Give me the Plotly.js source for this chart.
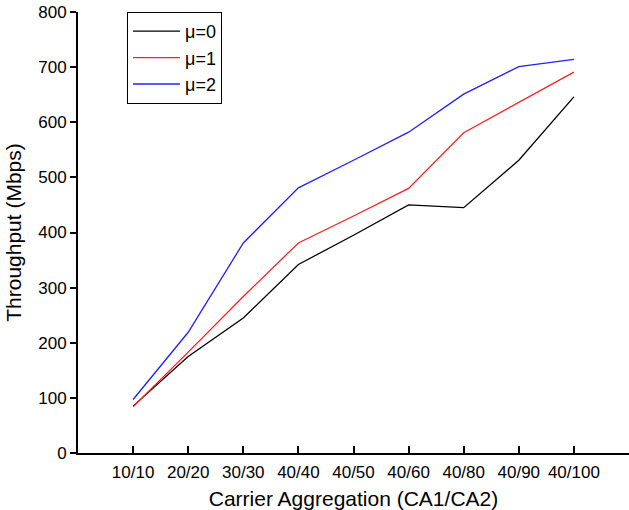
<!DOCTYPE html>
<html>
<head>
<meta charset="utf-8">
<script src="https://cdn.plot.ly/plotly-3.0.1.min.js"></script>
<style>html,body{margin:0;padding:0;background:#fff;} #chart{width:629px;height:510px;}</style>
</head>
<body>
<div id="chart"></div>
<script>
const categories = ["10/10","20/20","30/30","40/40","40/50","40/60","40/80","40/90","40/100"];
const mu0 = [85, 175, 245, 342, 395, 450, 445, 531, 646];
const mu1 = [84, 183, 284, 381, 430, 480, 581, 636, 691];
const mu2 = [97, 219, 381, 481, 531, 582, 651, 701, 714];
const seriesNames = ["μ=0", "μ=1", "μ=2"];
const yTicks = [0, 100, 200, 300, 400, 500, 600, 700, 800];

const idx = categories.map((c, i) => i);
const tickVals = idx.concat([categories.length]);
const tickText = categories.concat([""]);

const colors = ["#000000", "#ff2020", "#2020ff"];
const traces = [mu0, mu1, mu2].map((s, k) => ({
  x: idx, y: s, type: "scatter", mode: "lines", name: seriesNames[k],
  line: {color: colors[k], width: 1.3}
}));

const layout = {
  width: 629, height: 510,
  margin: {l: 78, r: 0, t: 12, b: 57},
  paper_bgcolor: "#fff", plot_bgcolor: "#fff",
  font: {family: "Liberation Sans, Arial, sans-serif", color: "#000", size: 17},
  showlegend: true,
  legend: {x: 0.089, y: 1.0, xanchor: "left", yanchor: "top",
    bordercolor: "#000", borderwidth: 1, bgcolor: "#fff",
    font: {size: 18, color: "#000"}, itemwidth: 47, tracegroupgap: 0},
  xaxis: {range: [-1, categories.length], tickmode: "array", tickvals: tickVals, ticktext: tickText,
    showgrid: false, zeroline: false, showline: true, linecolor: "#000", linewidth: 2,
    ticks: "inside", ticklen: 7, tickwidth: 2, tickcolor: "#000",
    tickfont: {size: 17}, ticklabelstandoff: 3,
    title: {text: "Carrier Aggregation (CA1/CA2)", font: {size: 21}, standoff: 10}},
  yaxis: {range: [0, 800], tickmode: "array", tickvals: yTicks,
    showgrid: false, zeroline: false, showline: true, linecolor: "#000", linewidth: 2,
    ticks: "outside", ticklen: 6, tickwidth: 2, tickcolor: "#000",
    tickfont: {size: 17},
    title: {text: "Throughput (Mbps)", font: {size: 21}, standoff: 11}}
};
Plotly.newPlot("chart", traces, layout, {displayModeBar: false, staticPlot: true});
</script>
</body>
</html>
